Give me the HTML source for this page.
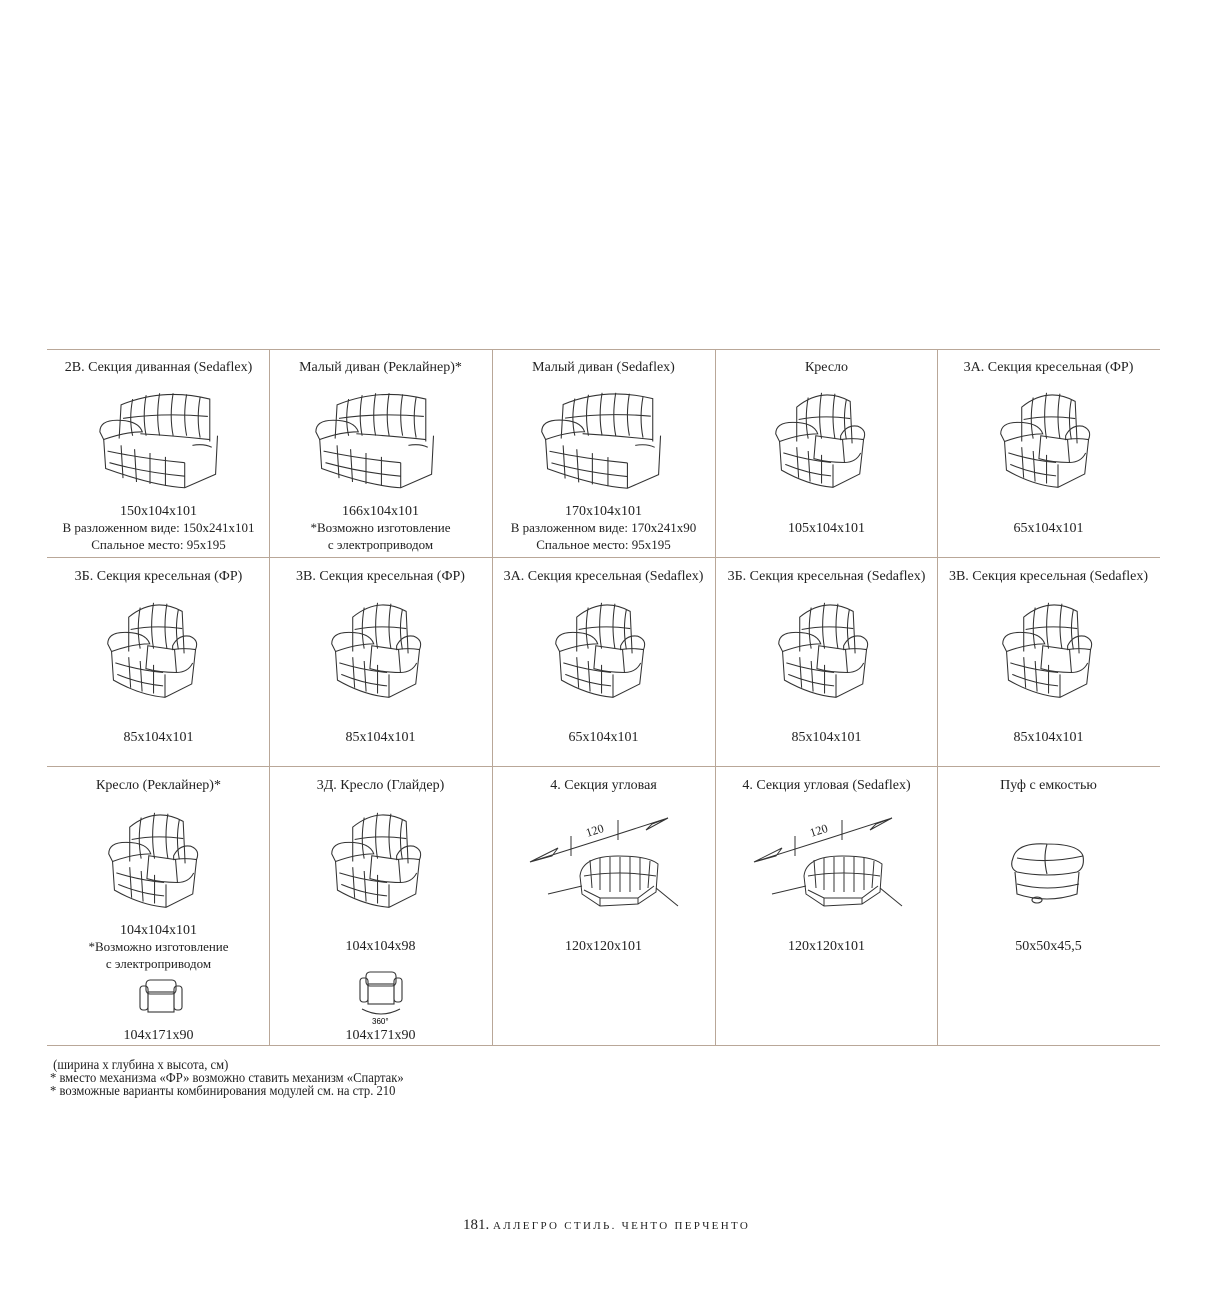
<!DOCTYPE html>
<html><head><meta charset="utf-8">
<style>
body{margin:0;background:#fff;}
#pg{position:relative;width:1207px;height:1300px;font-family:"Liberation Serif","Noto Serif CJK SC",serif;color:#222;}
.h{position:absolute;height:1px;background:#b9a798;}
.v{position:absolute;width:1px;background:#b9a798;}
.t{position:absolute;width:223px;text-align:center;font-size:14px;line-height:17px;white-space:nowrap;}
.s{font-size:13px;line-height:16px;}
svg.i{position:absolute;}
.n{position:absolute;font-size:14px;line-height:13px;left:50px;white-space:nowrap;transform:scaleX(.9);transform-origin:0 0;}
</style></head><body><div id="pg">
<svg width="0" height="0" style="position:absolute">
<defs>
<symbol id="chair" viewBox="0 0 110 115">
<g fill="none" stroke="#333" stroke-width="1.1">
<path d="M28 58 L28 22 Q55 0 84 16 L86 60"/>
<path d="M40 12 Q36 35 40 55 M54 7 Q50 32 54 55 M68 8 Q64 32 68 55 M80 14 Q76 34 80 56"/>
<path d="M30 35 Q55 30 84 34"/>
<path d="M6 50 Q6 38 24 38 Q46 38 50 50 Q32 50 10 58 Z"/>
<path d="M74 52 Q80 40 92 42 Q102 46 98 56 Q86 54 74 56 Z"/>
<path d="M10 58 L12 88 Q40 104 66 106 L94 92 L98 56"/>
<path d="M48 52 Q62 54 76 56 L78 80 Q60 80 46 76 Z"/>
<path d="M14 70 Q40 78 64 80 M16 82 Q40 92 64 94 M28 64 L30 96 M40 68 L42 100 M54 72 L54 102"/>
<path d="M66 82 L66 106 M78 80 Q90 80 95 70"/>
</g></symbol>
<symbol id="sofa" viewBox="0 0 140 115">
<g fill="none" stroke="#333" stroke-width="1.1">
<path d="M24 55 L26 20 Q70 2 118 14 L118 58"/>
<path d="M38 14 Q34 35 38 52 M52 10 Q48 32 52 52 M66 8 Q62 32 66 52 M80 8 Q76 32 80 52 M94 9 Q90 32 94 52 M108 12 Q104 34 108 54"/>
<path d="M28 34 Q70 28 116 32"/>
<path d="M4 48 Q4 36 22 36 Q44 36 48 48 Q30 48 8 56 Z"/>
<path d="M8 56 L10 86 Q60 104 92 106 L124 92 L126 52"/>
<path d="M46 50 Q80 52 118 56 M12 68 Q50 76 92 80 M14 80 Q50 90 92 94"/>
<path d="M26 62 L28 96 M40 66 L42 100 M56 70 L56 102 M72 74 L72 104 M92 80 L92 106 M100 62 Q112 60 120 64"/>
</g></symbol>
<symbol id="corner" viewBox="0 0 160 130">
<g fill="none" stroke="#333" stroke-width="1">
<path d="M2 62 L78 38 L140 18 M140 18 L118 30 L124 24 Z M2 62 L30 48 L24 56 Z"/>
<path d="M43 36 L43 56 M90 20 L90 40"/>
<text x="58" y="36" font-size="12" transform="rotate(-18 62 32)" font-family="Liberation Serif,serif" stroke="none" fill="#222">120</text>
<path d="M52 76 Q54 56 90 56 Q120 56 130 64 L128 92 L110 104 L72 106 L54 94 Z"/>
<path d="M56 90 L72 98 L110 98 L126 86 M72 98 L72 106 M110 98 L110 104"/>
<path d="M62 60 L64 88 M72 58 L72 90 M82 57 L82 92 M92 57 L92 92 M102 57 L102 92 M112 58 L112 90 M122 61 L120 88 M56 76 Q90 70 128 76"/>
<path d="M20 94 L54 86 M128 88 L150 106"/>
</g></symbol>
<symbol id="pouf" viewBox="0 0 80 70">
<g fill="none" stroke="#333" stroke-width="1.1">
<path d="M6 20 Q10 4 40 6 Q72 6 76 18 Q78 30 70 34 Q40 40 10 34 Q2 30 6 20 Z"/>
<path d="M40 6 Q36 20 40 36 M10 20 Q40 26 76 18"/>
<path d="M8 34 L10 56 Q40 66 70 56 L72 34 M10 46 Q40 54 72 46"/>
<ellipse cx="30" cy="62" rx="5" ry="3"/>
</g></symbol>
<symbol id="top" viewBox="0 0 50 40">
<g fill="none" stroke="#333" stroke-width="1.1">
<rect x="10" y="4" width="30" height="14" rx="4"/><rect x="4" y="10" width="8" height="24" rx="3"/><rect x="38" y="10" width="8" height="24" rx="3"/><rect x="12" y="16" width="26" height="20"/>
</g></symbol>
</defs></svg>

<div class="h" style="left:47px;top:349px;width:1113px"></div>
<div class="h" style="left:47px;top:557px;width:1113px"></div>
<div class="h" style="left:47px;top:766px;width:1113px"></div>
<div class="h" style="left:47px;top:1045px;width:1113px"></div>
<div class="v" style="left:269px;top:349px;height:696px"></div>
<div class="v" style="left:492px;top:349px;height:696px"></div>
<div class="v" style="left:715px;top:349px;height:696px"></div>
<div class="v" style="left:937px;top:349px;height:696px"></div>

<div class="t" style="left:47px;top:359px">2В. Секция диванная (Sedaflex)</div>
<div class="t" style="left:269px;top:359px">Малый диван (Реклайнер)*</div>
<div class="t" style="left:492px;top:359px">Малый диван (Sedaflex)</div>
<div class="t" style="left:715px;top:359px">Кресло</div>
<div class="t" style="left:937px;top:359px">3А. Секция кресельная (ФР)</div>
<svg class="i" style="left:96px;top:385px" width="135" height="112"><use href="#sofa"/></svg>
<svg class="i" style="left:312px;top:385px" width="135" height="112"><use href="#sofa"/></svg>
<svg class="i" style="left:536px;top:385px" width="140" height="112"><use href="#sofa"/></svg>
<svg class="i" style="left:770px;top:385px" width="105" height="112"><use href="#chair"/></svg>
<svg class="i" style="left:995px;top:385px" width="105" height="112"><use href="#chair"/></svg>
<div class="t" style="left:47px;top:503px">150x104x101<br><span class="s">В разложенном виде: 150x241x101<br>Спальное место: 95x195</span></div>
<div class="t" style="left:269px;top:503px">166x104x101<br><span class="s">*Возможно изготовление<br>с электроприводом</span></div>
<div class="t" style="left:492px;top:503px">170x104x101<br><span class="s">В разложенном виде: 170x241x90<br>Спальное место: 95x195</span></div>
<div class="t" style="left:715px;top:520px">105x104x101</div>
<div class="t" style="left:937px;top:520px">65x104x101</div>

<div class="t" style="left:47px;top:568px">3Б. Секция кресельная (ФР)</div>
<div class="t" style="left:269px;top:568px">3В. Секция кресельная (ФР)</div>
<div class="t" style="left:492px;top:568px">3А. Секция кресельная (Sedaflex)</div>
<div class="t" style="left:715px;top:568px">3Б. Секция кресельная (Sedaflex)</div>
<div class="t" style="left:937px;top:568px">3В. Секция кресельная (Sedaflex)</div>
<svg class="i" style="left:102px;top:595px" width="105" height="112"><use href="#chair"/></svg>
<svg class="i" style="left:326px;top:595px" width="105" height="112"><use href="#chair"/></svg>
<svg class="i" style="left:550px;top:595px" width="105" height="112"><use href="#chair"/></svg>
<svg class="i" style="left:773px;top:595px" width="105" height="112"><use href="#chair"/></svg>
<svg class="i" style="left:997px;top:595px" width="105" height="112"><use href="#chair"/></svg>
<div class="t" style="left:47px;top:729px">85x104x101</div>
<div class="t" style="left:269px;top:729px">85x104x101</div>
<div class="t" style="left:492px;top:729px">65x104x101</div>
<div class="t" style="left:715px;top:729px">85x104x101</div>
<div class="t" style="left:937px;top:729px">85x104x101</div>

<div class="t" style="left:47px;top:777px">Кресло (Реклайнер)*</div>
<div class="t" style="left:269px;top:777px">3Д. Кресло (Глайдер)</div>
<div class="t" style="left:492px;top:777px">4. Секция угловая</div>
<div class="t" style="left:715px;top:777px">4. Секция угловая (Sedaflex)</div>
<div class="t" style="left:937px;top:777px">Пуф с емкостью</div>
<svg class="i" style="left:103px;top:805px" width="105" height="112"><use href="#chair"/></svg>
<svg class="i" style="left:326px;top:805px" width="105" height="112"><use href="#chair"/></svg>
<svg class="i" style="left:528px;top:800px" width="160" height="130"><use href="#corner"/></svg>
<svg class="i" style="left:752px;top:800px" width="160" height="130"><use href="#corner"/></svg>
<svg class="i" style="left:1007px;top:838px" width="80" height="70"><use href="#pouf"/></svg>
<div class="t" style="left:47px;top:922px">104x104x101<br><span class="s">*Возможно изготовление<br>с электроприводом</span></div>
<div class="t" style="left:269px;top:938px">104x104x98</div>
<div class="t" style="left:492px;top:938px">120x120x101</div>
<div class="t" style="left:715px;top:938px">120x120x101</div>
<div class="t" style="left:937px;top:938px">50x50x45,5</div>
<svg class="i" style="left:136px;top:976px" width="50" height="40"><use href="#top"/></svg>
<svg class="i" style="left:356px;top:968px" width="50" height="40"><use href="#top"/></svg>
<svg class="i" style="left:356px;top:1005px" width="50" height="20"><path d="M6 4 Q25 14 44 4" fill="none" stroke="#333"/><text x="16" y="19" font-size="8" font-family="Liberation Sans,sans-serif">360°</text></svg>
<div class="t" style="left:47px;top:1027px">104x171x90</div>
<div class="t" style="left:269px;top:1027px">104x171x90</div>

<div class="n" style="top:1059px">&nbsp;(ширина x глубина x высота, см)<br>* вместо механизма «ФР» возможно ставить механизм «Спартак»<br>* возможные варианты комбинирования модулей см. на стр. 210</div>
<div style="position:absolute;left:463px;top:1217px;font-size:15px;white-space:nowrap">181. <span style="font-size:11px;letter-spacing:2.3px">АЛЛЕГРО СТИЛЬ. ЧЕНТО ПЕРЧЕНТО</span></div>
</div></body></html>
